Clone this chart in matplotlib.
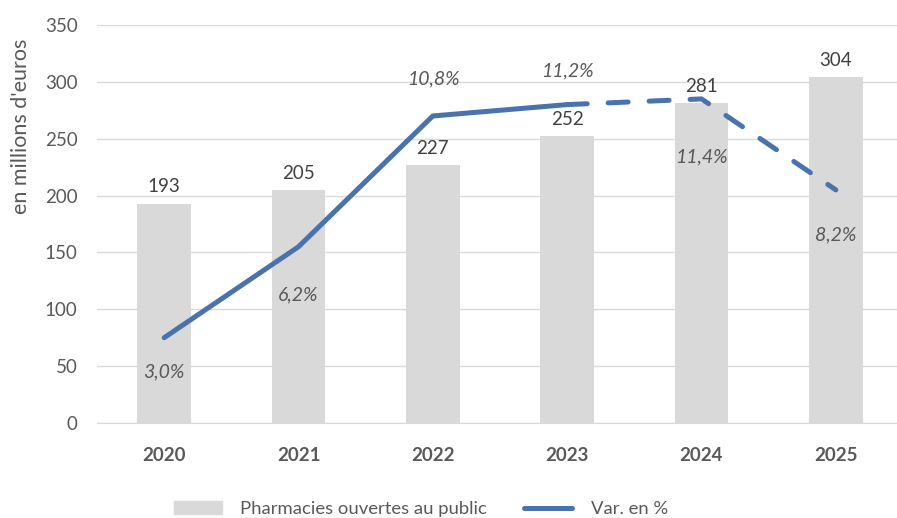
import matplotlib
matplotlib.use("Agg")
import matplotlib.pyplot as plt
from matplotlib.lines import Line2D
from matplotlib.patches import Patch

annees = ["2020", "2021", "2022", "2023", "2024", "2025"]
montants = [193, 205, 227, 252, 281, 304]
variations = [3.0, 6.2, 10.8, 11.2, 11.4, 8.2]
nb_reel = 4  # 2020-2023 en trait plein, la suite en pointillés

# décalage vertical (points) des étiquettes de variation
decal_var = [-24.5, -34.5, 26.5, 24, -42, -32.5]

plt.rcParams["font.family"] = ["Lato", "DejaVu Sans"]
GRIS_TXT = "#595959"
BLEU = "#4a72ad"
GRIS_BARRE = "#d9d9d9"

fig = plt.figure(figsize=(8.97, 5.18), dpi=100)
ax = fig.add_axes([97 / 897, 1 - 423 / 518, 806 / 897, 398 / 518])
x = list(range(len(annees)))

ax.bar(x, montants, width=0.4, color=GRIS_BARRE, zorder=2)
for xi, v in zip(x, montants):
    ax.annotate(str(v), (xi, v), xytext=(0, 12), textcoords="offset points",
                ha="center", va="center", fontsize=13.5, color="#404040")

ax.set_xlim(-0.5, len(annees) - 0.5)
ax.set_ylim(0, 350)
ax.set_yticks(range(0, 351, 50))
ax.yaxis.grid(True, color="#d9d9d9", linewidth=1)
ax.set_axisbelow(True)
for s in ["top", "right", "left"]:
    ax.spines[s].set_visible(False)
ax.spines["bottom"].set_color("#d9d9d9")
ax.tick_params(axis="both", length=0, colors=GRIS_TXT, labelsize=13.5)
ax.tick_params(axis="x", pad=17)
ax.tick_params(axis="y", pad=14)
ax.set_xticks(x)
ax.set_xticklabels(annees, fontweight="bold")
ax.set_ylabel("en millions d'euros", fontsize=15.5, color=GRIS_TXT)
ax.yaxis.set_label_coords(-0.082, 0.746)

ax2 = ax.twinx()
ax2.set_ylim(0, 14)
ax2.axis("off")
ax2.plot(x[:nb_reel], variations[:nb_reel], color=BLEU, linewidth=3.6,
         solid_capstyle="round", solid_joinstyle="round", zorder=3)
ax2.plot(x[nb_reel - 1:], variations[nb_reel - 1:], color=BLEU, linewidth=3.6,
         linestyle=(0, (4, 4.2)), dash_capstyle="round", zorder=3)
for xi, v, dy in zip(x, variations, decal_var):
    ax2.annotate(f"{v:.1f}%".replace(".", ","), (xi, v), xytext=(0, dy),
                 textcoords="offset points", ha="center", va="center",
                 fontsize=14, style="italic", color=GRIS_TXT)

handles = [Patch(color=GRIS_BARRE, label="Pharmacies ouvertes au public"),
           Line2D([0], [0], color=BLEU, linewidth=3.6, solid_capstyle="round",
                  label="Var. en %")]
fig.legend(handles=handles, loc="center", bbox_to_anchor=(421 / 897, 1 - 509 / 518),
           ncol=2, frameon=False, fontsize=13.3, labelcolor=GRIS_TXT,
           handlelength=2.6, handleheight=0.7, columnspacing=2.0, handletextpad=1.0)

fig.savefig("out.png", dpi=100)
